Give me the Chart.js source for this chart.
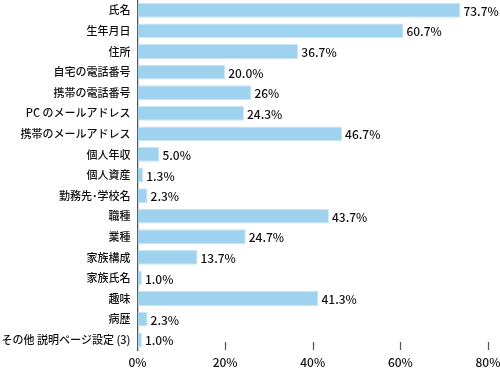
<!DOCTYPE html>
<html>
<head>
<meta charset="utf-8">
<script src="https://cdn.jsdelivr.net/npm/chart.js@4"></script>
<style>
  html, body { margin: 0; padding: 0; background: #fff; }
  #wrap { width: 500px; height: 372px; }
</style>
</head>
<body>
<div id="wrap"><canvas id="chart"></canvas></div>
<script>
const categories = [
    "氏名", "生年月日", "住所", "自宅の電話番号", "携帯の電話番号",
    "PC のメールアドレス", "携帯のメールアドレス", "個人年収", "個人資産",
    "勤務先･学校名", "職種", "業種", "家族構成", "家族氏名", "趣味", "病歴",
    "その他 説明ページ設定 (3)"
];
const values = [73.7, 60.7, 36.7, 20.0, 26, 24.3, 46.7, 5.0, 1.3, 2.3, 43.7, 24.7, 13.7, 1.0, 41.3, 2.3, 1.0];
const valueLabels = ["73.7%", "60.7%", "36.7%", "20.0%", "26%", "24.3%", "46.7%", "5.0%", "1.3%",
    "2.3%", "43.7%", "24.7%", "13.7%", "1.0%", "41.3%", "2.3%", "1.0%"];
const xTicks = [0, 20, 40, 60, 80];

const FONT = "'Noto Sans CJK JP', 'Noto Sans', sans-serif";

// value labels at the end of each bar
const valueLabelPlugin = {
    id: "valueLabels",
    afterDatasetsDraw(chart){
        const ctx = chart.ctx;
        const meta = chart.getDatasetMeta(0);
        ctx.save();
        ctx.font = "500 12px " + FONT;
        ctx.fillStyle = "#111";
        ctx.textAlign = "left";
        ctx.textBaseline = "middle";
        meta.data.forEach((bar, i) => {
            ctx.fillText(valueLabels[i], bar.x + 3, bar.y + 1);
        });
        ctx.restore();
    }
};

// small upward tick marks on the bottom of the plot
const bottomTicksPlugin = {
    id: "bottomTicks",
    afterDraw(chart){
        const ctx = chart.ctx;
        const x = chart.scales.x;
        const bottom = chart.chartArea.bottom;
        ctx.save();
        ctx.strokeStyle = "#555";
        ctx.lineWidth = 1.2;
        xTicks.forEach(v => {
            if(v === 0) return;
            const px = Math.round(x.getPixelForValue(v)) + 0.5;
            ctx.beginPath();
            ctx.moveTo(px, bottom - 8);
            ctx.lineTo(px, bottom);
            ctx.stroke();
        });
        ctx.restore();
    }
};

new Chart(document.getElementById("chart"), {
    type: "bar",
    data: {
        labels: categories,
        datasets: [{
            data: values,
            backgroundColor: "#9fd2ef",
            borderColor: "#c6e6f8",
            borderWidth: 1,
            barPercentage: 0.72,
            categoryPercentage: 1.0
        }]
    },
    options: {
        indexAxis: "y",
        responsive: true,
        maintainAspectRatio: false,
        animation: false,
        layout: { padding: { top: 0, right: 12, left: 0, bottom: 0 } },
        plugins: {
            legend: { display: false },
            tooltip: { enabled: false }
        },
        scales: {
            x: {
                min: 0,
                max: 80,
                afterFit: s => { s.height = 22; s.paddingLeft = 0; s.paddingRight = 0; },
                afterBuildTicks: s => { s.ticks = xTicks.map(v => ({ value: v })); },
                grid: { display: false, drawTicks: false },
                border: { display: false },
                ticks: {
                    padding: 5,
                    color: "#111",
                    font: { family: FONT, size: 12, weight: 500 },
                    callback: v => v + "%"
                }
            },
            y: {
                afterFit: s => { s.width = 137.5; s.paddingTop = 0; s.paddingBottom = 0; },
                grid: { display: false, drawTicks: false },
                border: { display: true, color: "#555", width: 1.3 },
                ticks: {
                    padding: 7,
                    color: "#111",
                    font: { family: FONT, size: 11, weight: 500 }
                }
            }
        }
    },
    plugins: [valueLabelPlugin, bottomTicksPlugin]
});
</script>
</body>
</html>
